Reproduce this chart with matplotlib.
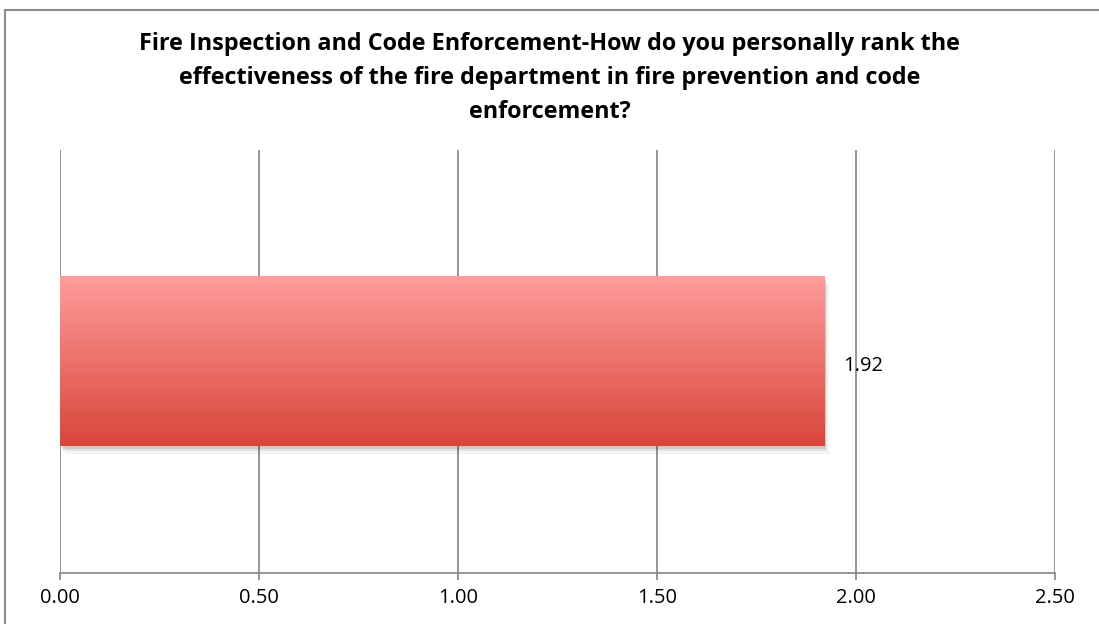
import numpy as np
import matplotlib.pyplot as plt
from matplotlib.patches import Rectangle
from matplotlib.colors import LinearSegmentedColormap

title = ("Fire Inspection and Code Enforcement-How do you personally rank the\n"
         "effectiveness of the fire department in fire prevention and code\n"
         "enforcement?")
categories = [""]
values = [1.92]
xticks = [0.0, 0.5, 1.0, 1.5, 2.0, 2.5]

plt.rcParams['font.family'] = ['Open Sans', 'DejaVu Sans']

fig = plt.figure(figsize=(10.99, 6.24), dpi=100)

# outer chart frame (runs off the right and bottom edges)
frame = Rectangle((5 / 1099, -0.1), 1.2, 1.1 - 10 / 624,
                  transform=fig.transFigure, fill=False, edgecolor='#8c8c8c', lw=1.5)
fig.patches.append(frame)

ax = fig.add_axes([60 / 1099, 51 / 624, 995 / 1099, 423 / 624])

bar_h = 0.4
cmap = LinearSegmentedColormap.from_list('red_grad', ['#d9463b', '#ff9c9b'])
grad = np.linspace(0, 1, 256).reshape(-1, 1)

for i, v in enumerate(values):
    y0 = i - bar_h / 2
    # soft drop shadow
    for k, a in enumerate([0.10, 0.07, 0.04]):
        d = 0.006 * (k + 1)
        ax.add_patch(Rectangle((0.004 * (k + 1), y0 - d), v, bar_h,
                               facecolor='black', alpha=a, lw=0, zorder=2))
    ax.imshow(grad, cmap=cmap, aspect='auto', origin='lower',
              extent=(0, v, y0, y0 + bar_h), zorder=3, interpolation='bicubic')
    ax.text(v + 0.048, i - 0.01, f"{v:.2f}", va='center', ha='left',
            fontsize=14.5, zorder=4)

ax.set_xlim(0, 2.5)
ax.set_ylim(-0.5, 0.5)
ax.set_xticks(xticks)
ax.set_xticklabels([f"{t:.2f}" for t in xticks], fontsize=14.5)
ax.set_yticks([])
ax.grid(axis='x', color='#8c8c8c', lw=1.3, zorder=1)
ax.set_axisbelow(True)
for s in ['top', 'right', 'left']:
    ax.spines[s].set_visible(False)
ax.spines['bottom'].set_color('#8c8c8c')
ax.spines['bottom'].set_linewidth(1.3)
ax.tick_params(axis='x', length=5, width=1.3, color='#8c8c8c', pad=6)

fig.text(0.5, 1 - 78 / 624, title, ha='center', va='center',
         fontsize=16.8, fontweight='bold', linespacing=1.55)

fig.savefig('out.png', dpi=100)
